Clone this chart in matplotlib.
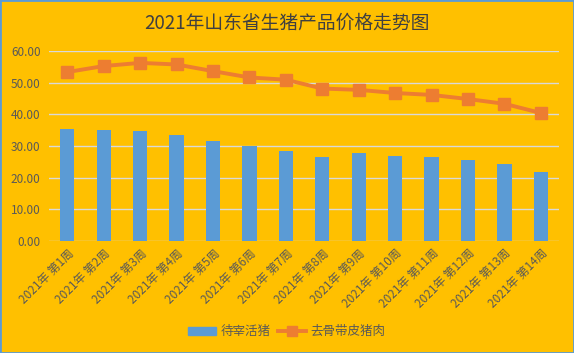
import matplotlib.pyplot as plt
import numpy as np
from matplotlib.lines import Line2D
from matplotlib.patches import Patch

plt.rcParams['font.family'] = ['Noto Sans CJK SC', 'DejaVu Sans']

weeks = ['2021年 第%d周' % i for i in range(1, 15)]
live_pig = [35.4, 35.1, 34.7, 33.5, 31.6, 30.0, 28.4, 26.5, 27.8, 26.8, 26.5, 25.6, 24.3, 21.8]
pork = [53.3, 55.2, 56.2, 55.7, 53.6, 51.6, 50.9, 48.1, 47.7, 46.7, 46.1, 44.8, 43.3, 40.4]

bg = '#FFC000'
bar_color = '#5B9BD5'
line_color = '#ED7D31'
text_color = '#595959'

fig = plt.figure(figsize=(5.74, 3.53), dpi=100, facecolor=bg)
fig.patches.append(plt.Rectangle((0, 0), 1, 1, transform=fig.transFigure,
                                 fill=False, edgecolor='#5B9BD5', linewidth=2))
ax = fig.add_axes([0.0854, 0.317, 0.8886, 0.539])
ax.set_facecolor(bg)

x = np.arange(len(weeks))
ax.bar(x, live_pig, width=0.39, color=bar_color, zorder=2)
ax.plot(x, pork, color=line_color, linewidth=2.8, marker='s', markersize=8, zorder=3)

ax.set_xlim(-0.5, len(weeks) - 0.5)
ax.set_ylim(0, 60)
ax.set_yticks(range(0, 61, 10))
ax.set_yticklabels(['%.2f' % v for v in range(0, 61, 10)], color=text_color, fontsize=8.5)
ax.set_xticks(x)
ax.set_xticklabels(weeks, rotation=45, ha='right', rotation_mode='anchor',
                   color=text_color, fontsize=8.5)
ax.tick_params(length=0, pad=4)
ax.tick_params(axis='y', pad=6)
ax.grid(axis='y', color='#D9D9D9', linewidth=1, zorder=0)
for s in ax.spines.values():
    s.set_visible(False)

fig.text(0.5, 0.935, '2021年山东省生猪产品价格走势图', ha='center', va='center',
         fontsize=13.5, color='#404040')

handles = [Patch(color=bar_color, label='待宰活猪'),
           Line2D([0], [0], color=line_color, linewidth=2.8, marker='s', markersize=7,
                  label='去骨带皮猪肉')]
fig.legend(handles=handles, loc='center', bbox_to_anchor=(0.5, 0.06), ncol=2,
           frameon=False, fontsize=9, labelcolor=text_color, handlelength=2.2,
           columnspacing=0.6, handletextpad=0.4)

fig.savefig('out.png', dpi=100, facecolor=bg)
